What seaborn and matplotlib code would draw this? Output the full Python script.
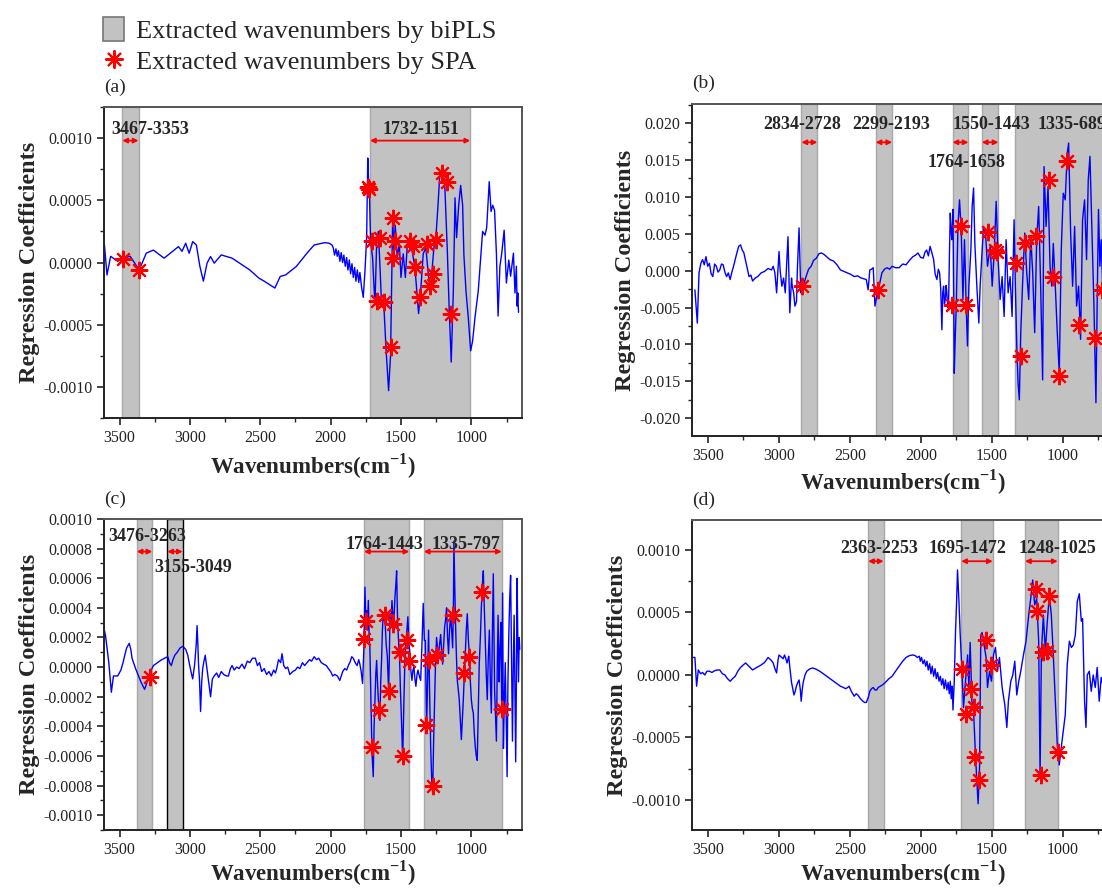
import seaborn as sns
import matplotlib
matplotlib.use("Agg")
from matplotlib import pyplot as plt
from matplotlib.patches import Patch
from matplotlib.lines import Line2D
from matplotlib.ticker import MultipleLocator, FormatStrFormatter

# ---------------- data ----------------
# panel (a)  values x1e-4
a_wn = [3607, 3589, 3563, 3513, 3475, 3424, 3360, 3310, 3259, 3183, 3081, 3056, 3030, 3005, 2980, 2954, 2929,
        2904, 2878, 2853, 2827, 2777, 2700, 2574, 2510, 2472, 2396, 2358, 2320, 2244, 2168, 2117, 2041, 2010,
        1990, 1981, 1972, 1962, 1953, 1944, 1934, 1925, 1915, 1906, 1896, 1886, 1877, 1867, 1858, 1848, 1839,
        1829, 1820, 1810, 1800, 1792, 1780, 1768, 1756, 1744, 1736, 1730, 1725, 1716, 1702, 1685, 1673, 1661,
        1650, 1638, 1621, 1607, 1588, 1574, 1559, 1550, 1541, 1526, 1512, 1500, 1484, 1469, 1455, 1436, 1422,
        1401, 1384, 1375, 1360, 1342, 1323, 1313, 1299, 1280, 1266, 1252, 1237, 1223, 1204, 1188, 1171, 1157,
        1143, 1128, 1116, 1105, 1090, 1076, 1062, 1053, 1038, 1022, 1005, 991, 974, 951, 934, 920, 903, 891,
        873, 860, 848, 835, 822, 810, 797, 784, 767, 751, 734, 721, 701, 690, 680, 675, 670, 665]
a_val = [1.4, -1.0, 0.5, 0.1, 0.35, 0.5, -0.6, 0.75, 1.0, 0.35, 1.28, 0.9, 1.55, 0.75, 1.68, 1.41, -0.3,
         -1.5, -0.05, 0.48, -0.05, 0.61, 0.35, -0.6, -1.25, -1.5, -2.05, -1.12, -1.0, -0.32, 0.75, 1.41, 1.6, 1.55,
         1.41, 1.17, 0.6, 1.1, 0.5, 0.95, 0.1, 0.8, 0.0, 0.6, -0.3, 0.4, -0.6, 0.2, -0.9, -0.1, -1.2,
         -0.4, -1.5, -0.6, -1.6, -0.8, -2.0, -2.8, -0.7, 2.0, 8.4, 6.5, 6.0, 1.7, 0.4, -3.4, 1.5, 2.5,
         -0.1, -3.4, -3.6, -6.8, -10.3, -7.4, 3.6, 1.0, 3.0, 0.4, 1.5, -1.2, 0.7, -1.2, 1.5, 1.7, 1.0,
         -0.4, -2.8, -4.1, -2.3, 0.7, 1.2, -0.1, -1.7, -0.7, 1.2, 2.0, 4.6, 7.3, 7.4, 6.0, 1.0, -3.9,
         -8.0, -2.3, 5.2, 2.0, 4.6, 6.2, 4.6, 0.6, -2.3, -4.4, -7.1, -6.3, -4.4, -2.3, 0.4, 2.5, 2.2, 2.8,
         6.5, 4.1, 4.6, 4.2, 0.75, -4.3, -0.3, 0.75, 2.6, -1.65, 0.2, -1.1, 0.75, -2.45, -0.3, -3.5, -2.45, -4.0]
a_star_wn = [3475, 3360, 1732, 1725, 1709, 1673, 1650, 1621, 1574, 1559, 1555, 1543, 1436, 1413, 1401, 1365,
             1318, 1294, 1270, 1252, 1209, 1171, 1147]
a_star_val = [0.3, -0.6, 6.1, 5.9, 1.7, -3.1, 2.0, -3.2, -6.8, 3.6, 0.4, 1.7, 1.7, 1.3, -0.4, -2.8,
              1.5, -1.9, -0.9, 1.8, 7.2, 6.5, -4.1]
a_bands = [(3480, 3365), (1720, 1008)]
a_labels = ["3467-3353", "1732-1151"]

# panel (b)  values x1e-3
b_wn = [3590, 3573, 3561, 3548, 3536, 3524, 3512, 3500, 3488, 3476, 3464, 3451, 3439, 3427, 3415, 3403, 3391,
        3379, 3367, 3355, 3342, 3330, 3318, 3300, 3282, 3269, 3257, 3245, 3227, 3209, 3196, 3184, 3166, 3148,
        3124, 3100, 3075, 3051, 3039, 3027, 3015, 2998, 2990, 2978, 2966, 2954, 2935, 2922, 2910, 2905, 2895,
        2886, 2875, 2869, 2857, 2845, 2833, 2820, 2808, 2790, 2772, 2755, 2735, 2717, 2699, 2681, 2663, 2640,
        2614, 2590, 2566, 2541, 2517, 2493, 2469, 2445, 2420, 2400, 2384, 2371, 2359, 2347, 2335, 2323, 2311,
        2299, 2287, 2274, 2256, 2238, 2220, 2202, 2178, 2153, 2128, 2104, 2080, 2056, 2038, 2020, 2002, 1983,
        1971, 1959, 1947, 1935, 1922, 1910, 1899, 1887, 1877, 1868, 1860, 1852, 1846, 1840, 1834, 1828, 1822,
        1817, 1811, 1805, 1799, 1793, 1787, 1782, 1778, 1774, 1769, 1765, 1758, 1751, 1745, 1739, 1728, 1716,
        1710, 1704, 1693, 1687, 1681, 1672, 1662, 1648, 1639, 1629, 1620, 1606, 1592, 1583, 1571, 1559, 1545,
        1531, 1512, 1498, 1484, 1470, 1456, 1442, 1428, 1414, 1400, 1386, 1372, 1358, 1344, 1335, 1325, 1316,
        1307, 1297, 1283, 1269, 1255, 1241, 1227, 1213, 1199, 1185, 1171, 1157, 1143, 1133, 1119, 1105, 1091,
        1079, 1068, 1054, 1040, 1026, 1012, 998, 984, 970, 960, 946, 932, 918, 904, 890, 876, 862, 848, 834,
        822, 810, 796, 782, 768, 759, 750, 740, 731, 720, 705, 690]
b_val = [-2.6, -7.1, -0.3, 1.0, 1.5, 0.8, 1.9, 0.6, 1.0, -0.4, -0.8, 0.9, 0.6, -0.2, 0.1, 0.9, 0.8,
         -0.2, -0.8, -0.3, -1.2, -0.2, 0.6, 2.0, 3.3, 3.5, 2.8, 2.4, 0.8, -0.8, -0.6, -1.4, -1.0, -0.8,
         -0.3, -0.1, 0.3, 0.1, 0.6, -0.3, -3.0, 2.6, 0.0, -2.1, -1.0, -3.0, 4.6, -5.7, -1.0, -2.1, -3.0,
         -4.8, -4.2, 0.1, 5.8, -3.0, -2.1, -1.6, -0.8, 0.2, 0.6, 1.4, 1.7, 2.3, 2.4, 2.2, 1.9, 1.5,
         1.3, 0.8, 0.1, -0.1, -0.3, -0.5, -0.8, -0.7, -1.0, -1.1, -1.2, -2.6, 0.1, 0.2, 0.4, -4.8, -3.5,
         -2.6, -1.5, -0.3, 0.2, 0.4, 0.2, 0.6, 0.4, 0.4, 0.9, 0.8, 1.4, 1.9, 2.1, 2.4, 1.8, 1.7,
         2.5, 2.8, 2.0, 3.3, 2.4, 1.5, -0.5, -1.2, 0.2, -0.3, -2.5, -8.0, -3.0, -2.1, -4.5, -3.9, -2.0,
         -3.0, -5.0, -4.8, 2.0, 7.8, 5.5, 4.2, 6.0, 8.3, -3.0, -13.9, -9.0, -4.8, 0.5, 6.0, 9.6, 5.6,
         1.0, -3.9, 4.2, 0.0, -4.8, -10.2, -2.1, 2.8, 8.7, 11.2, 3.7, -2.1, -7.1, -2.1, 1.9, 6.0, 5.1,
         0.6, 3.3, -2.1, 2.4, 9.4, 1.5, -3.9, -0.8, -6.2, 4.2, -3.0, -0.8, -6.2, 6.9, -2.1, -10.2, -15.2,
         -17.5, -8.4, -1.2, 5.1, -0.3, -3.9, 4.7, -0.3, -8.4, 4.2, 8.7, -2.1, -14.8, 14.1, 6.0, 11.4, 0.6,
         -2.1, 3.7, -2.1, -8.4, -13.9, 2.8, 10.5, 9.6, 15.9, 17.3, 5.1, -2.1, 6.0, -4.8, -2.1, -9.3, 6.9, 9.6, 1.5,
         12.3, 15.5, 5.1, -4.8, -17.9, -3.9, 8.3, 0.6, 4.2, -2.6, 3.0, -1.0]
b_star_wn = [2833, 2304, 1781, 1681, 1716, 1524, 1477, 1461, 1330, 1264, 1189, 1297, 1101, 1068, 1026, 974,
             885, 775, 726]
b_star_val = [-2.1, -2.6, -4.6, -4.6, 6.1, 5.3, 2.8, 2.5, 1.0, 3.8, 4.7, -11.6, 12.3, -0.8, -14.3, 14.8,
              -7.3, -9.1, -2.6]
b_bands = [(2840, 2728), (2318, 2202), (1777, 1665), (1571, 1454), (1337, 600)]
b_labels = ["2834-2728", "2299-2193", "1764-1658", "1550-1443", "1335-689"]

# panel (c)  values x1e-4
c_wn = [3614, 3599, 3576, 3558, 3543, 3513, 3490, 3475, 3460, 3449, 3431, 3420, 3411, 3386, 3365, 3348, 3322,
        3310, 3297, 3280, 3259, 3230, 3208, 3180, 3157, 3145, 3132, 3120, 3107, 3090, 3069, 3050, 3030, 3015,
        3005, 2990, 2980, 2967, 2955, 2949, 2943, 2939, 2931, 2924, 2916, 2909, 2900, 2891, 2880, 2866, 2853,
        2840, 2827, 2810, 2795, 2777, 2760, 2740, 2726, 2712, 2700, 2685, 2668, 2650, 2630, 2612, 2592, 2574,
        2555, 2535, 2520, 2505, 2490, 2472, 2455, 2438, 2421, 2405, 2392, 2383, 2370, 2355, 2345, 2333, 2320,
        2305, 2290, 2269, 2250, 2235, 2218, 2200, 2185, 2168, 2150, 2135, 2117, 2100, 2085, 2066, 2050, 2030,
        2016, 2000, 1985, 1970, 1952, 1935, 1914, 1900, 1886, 1870, 1863, 1850, 1839, 1825, 1812, 1800, 1792,
        1783, 1773, 1764, 1756, 1750, 1744, 1738, 1732, 1726, 1721, 1714, 1706, 1697, 1691, 1685, 1679, 1673,
        1667, 1661, 1655, 1650, 1644, 1638, 1632, 1626, 1619, 1612, 1605, 1597, 1588, 1583, 1578, 1571, 1564,
        1555, 1549, 1543, 1537, 1531, 1524, 1517, 1510, 1503, 1495, 1488, 1479, 1472, 1465, 1458, 1451, 1443,
        1436, 1429, 1422, 1415, 1408, 1401, 1394, 1386, 1379, 1370, 1360, 1351, 1342, 1334, 1327, 1318, 1311,
        1304, 1296, 1289, 1282, 1275, 1268, 1261, 1254, 1247, 1240, 1233, 1226, 1218, 1211, 1204, 1197, 1190,
        1183, 1176, 1169, 1162, 1155, 1147, 1140, 1133, 1128, 1124, 1119, 1114, 1107, 1100, 1093, 1086, 1079,
        1071, 1064, 1057, 1050, 1043, 1036, 1029, 1022, 1015, 1008, 1000, 993, 986, 979, 972, 965, 958, 951,
        944, 936, 929, 922, 915, 908, 901, 894, 887, 880, 872, 865, 858, 851, 844, 838, 835, 828, 822, 816,
        810, 803, 797, 790, 784, 778, 772, 765, 759, 752, 746, 740, 734, 728, 721, 715, 708, 702, 696, 690,
        685, 680, 675, 670, 665, 660, 656]
c_val = [2.8, 2.1, 0.3, -1.7, -0.6, -0.6, -0.2, 0.3, 0.9, 1.3, 1.6, 1.2, 0.6, -0.1, -0.6, -1.0, -1.5,
         -1.2, -0.7, -0.3, 0.1, 0.3, 0.45, 0.6, 0.7, 0.3, 0.1, 0.5, 0.8, 1.0, 1.3, 1.4, 1.2, 0.8,
         0.3, -0.4, -0.8, 0.1, 1.5, 2.8, 1.5, 0.3, -1.0, -3.0, -1.0, -0.1, 0.4, 0.8, 0.0, -1.0, -2.0,
         -0.8, -0.6, -0.4, -0.7, -0.3, -0.5, -0.6, -0.6, -0.1, 0.1, -0.2, 0.0, -0.1, 0.2, -0.1, 0.4, 0.3,
         0.6, 0.6, 0.1, 0.3, -0.3, -0.1, -0.5, -0.3, -0.6, -0.2, -0.4, -0.1, 0.5, 0.3, 0.9, 0.1, -0.1,
         0.0, -0.5, -0.3, -0.2, 0.0, -0.1, 0.3, 0.1, 0.3, 0.5, 0.4, 0.7, 0.5, 0.6, 0.3, 0.2, 0.1,
         -0.1, -0.3, -0.6, -0.5, -0.6, -0.9, -0.3, -0.1, -0.2, 0.2, 0.3, 0.7, 0.6, 0.3, 0.1, 0.5, 0.2,
         -0.3, -1.1, 1.2, 5.4, 3.0, 3.8, 2.5, 4.5, 2.0, 1.3, -2.0, -5.8, -7.4, -4.0, -2.2, -0.5, 0.45,
         -1.0, -2.2, -3.0, -3.6, -1.0, 0.45, 2.5, 3.6, 3.2, 2.9, 1.5, 0.7, -1.6, 0.5, 3.6, 3.0, 4.5,
         2.9, 3.5, 4.7, 5.5, 6.5, 3.0, 1.8, 0.5, -1.8, -4.0, -6.3, -2.2, 0.5, 1.8, 2.5, 3.4, 1.5,
         0.9, -0.3, -0.9, -0.2, 0.0, -0.8, -1.3, -0.5, -0.2, -0.6, -0.9, 1.5, 4.3, 1.8, 1.8, -4.0, -1.0,
         2.5, -2.0, -5.4, -7.5, -8.5, -5.0, -2.2, 0.5, 2.0, 1.2, 0.9, 1.5, 2.2, 1.0, 0.2, 1.5, 2.7,
         3.2, 4.0, 2.0, 0.9, 2.5, 3.6, 2.5, 1.3, 3.5, 8.5, 6.0, 3.6, 1.0, -0.9, -1.5, -2.2, -3.5,
         -4.9, -3.5, -2.2, -0.5, 0.9, 2.5, 3.6, 2.0, 0.9, -0.8, -2.2, -2.8, -3.1, -4.5, -5.4, -6.0, -6.3, -3.0,
         0.2, 2.0, 4.0, 5.5, 6.5, 4.0, 1.8, -0.5, -2.2, 0.5, 2.5, -1.0, -3.1, 2.0, 6.3, 1.5, -1.5, -3.5, -5.0, 0.0,
         3.5, -1.0, 1.0, 3.0, -2.8, 5.0, -5.5, -2.0, 0.3, -4.0, -7.4, -1.0, 2.1, 4.5, 6.2, 1.0, -5.0, 0.0, 3.5, -2.0,
         -6.4, -1.0, 6.0, 2.0, -1.0, 2.0, 1.2]
c_star_wn = [3284, 1763, 1749, 1709, 1654, 1614, 1588, 1555, 1507, 1484, 1460, 1441, 1323, 1299, 1275, 1242,
             1128, 1053, 1015, 927, 784]
c_star_val = [-0.7, 1.9, 3.1, -5.4, -2.9, 3.5, -1.6, 2.9, 1.0, -6.0, 1.8, 0.4, -3.9, 0.5, -8.0, 0.8,
              3.5, -0.4, 0.7, 5.1, -2.8]
c_bands = [(3378, 3267), (3160, 3051), (1763, 1441), (1338, 784)]
c_labels = ["3476-3263", "3155-3049", "1764-1443", "1335-797"]

# panel (d)  values x1e-4
d_wn = [3600, 3590, 3578, 3566, 3550, 3536, 3520, 3505, 3488, 3470, 3450, 3430, 3415, 3397, 3379, 3360, 3342,
        3325, 3306, 3288, 3269, 3250, 3233, 3210, 3184, 3155, 3124, 3100, 3075, 3055, 3039, 3027, 3015, 3005,
        2998, 2988, 2978, 2969, 2959, 2950, 2942, 2936, 2930, 2920, 2910, 2900, 2893, 2884, 2876, 2866, 2857,
        2848, 2842, 2835, 2828, 2815, 2803, 2780, 2760, 2735, 2711, 2687, 2663, 2640, 2614, 2590, 2566, 2545,
        2529, 2515, 2505, 2490, 2469, 2455, 2444, 2425, 2408, 2395, 2384, 2370, 2359, 2347, 2335, 2323, 2311,
        2300, 2286, 2270, 2250, 2225, 2202, 2178, 2153, 2128, 2104, 2080, 2056, 2040, 2025, 2010, 2004, 1995,
        1985, 1975, 1966, 1957, 1948, 1938, 1929, 1920, 1910, 1900, 1891, 1882, 1872, 1863, 1854, 1845, 1836,
        1827, 1817, 1808, 1800, 1793, 1786, 1779, 1774, 1765, 1756, 1748, 1742, 1736, 1732, 1723, 1711, 1700,
        1686, 1671, 1662, 1653, 1641, 1629, 1618, 1606, 1597, 1587, 1578, 1569, 1555, 1541, 1531, 1517, 1503,
        1489, 1475, 1461, 1447, 1428, 1409, 1395, 1384, 1367, 1353, 1339, 1325, 1311, 1297, 1278, 1260, 1241,
        1227, 1213, 1199, 1185, 1171, 1161, 1152, 1138, 1124, 1110, 1096, 1082, 1068, 1054, 1040, 1026, 1012,
        998, 984, 970, 955, 941, 927, 913, 899, 885, 871, 862, 848, 838, 829, 815, 801, 787, 773, 759, 745,
        731, 715, 700, 680]
d_val = [1.4, 1.4, -0.9, 0.4, 0.1, 0.2, 0.0, 0.3, 0.3, 0.2, 0.35, 0.4, 0.4, 0.1, 0.0, -0.3, -0.5,
         -0.3, -0.1, 0.3, 0.6, 0.8, 0.96, 0.7, 0.4, 0.6, 0.8, 1.0, 1.4, 1.2, 0.96, 0.5, 0.16, 1.2,
         1.6, 1.5, 1.4, 1.3, 1.6, 1.3, 0.96, 1.2, 1.5, 0.4, -0.6, -1.2, -1.6, -1.3, -0.9, -0.6, -0.4,
         -1.2, -2.1, -1.2, -0.6, 0.0, 0.3, 0.5, 0.56, 0.45, 0.3, 0.1, -0.1, -0.3, -0.5, -0.7, -0.9, -1.0,
         -1.1, -1.0, -0.9, -1.3, -1.7, -1.5, -1.6, -1.9, -2.1, -2.2, -2.2, -1.8, -1.3, -1.1, -1.0, -1.2, -1.2,
         -1.0, -0.9, -0.8, -0.6, -0.3, -0.1, 0.3, 0.7, 1.1, 1.4, 1.55, 1.6, 1.55, 1.4, 1.5, 1.1, 1.4,
         0.9, 1.2, 0.7, 1.1, 0.4, 0.9, 0.1, 0.7, -0.1, 0.5, -0.3, 0.2, -0.5, -0.1, -0.8, -0.3, -1.1,
         -0.4, -1.2, -0.6, -1.5, -0.5, -1.9, -0.9, -2.8, -0.5, 3.5, 6.0, 8.4, 7.0, 5.9, 3.2, 0.3, -2.6,
         -0.5, 1.6, -1.0, 2.6, -2.1, -2.9, -5.8, -8.5, -10.3, -7.4, 3.2, 3.4, 2.4, 1.4, -1.0, 0.3, -0.5,
         1.6, 2.2, 0.3, 1.4, -1.0, -2.4, -4.2, -2.1, -0.5, 0.0, 1.1, -1.6, -0.5, 0.3, 1.6, 2.7, 4.8,
         6.1, 7.6, 5.6, 6.1, 2.7, -8.0, 1.6, 4.8, 1.9, 4.3, 6.4, 4.8, 1.6, -2.1, -5.6, -7.2, -5.8,
         -4.5, -3.2, 0.8, 2.7, 2.2, 2.4, 3.2, 5.9, 6.5, 4.3, 4.5, -2.1, -4.2, 0.0, 0.3, -1.3, 0.0, -1.0, 0.6, -2.1,
         -0.2, -1.0, 0.5, -0.5]
d_star_wn = [1711, 1648, 1681, 1625, 1618, 1594, 1545, 1508, 1189, 1180, 1096, 1143, 1115, 1157, 1035]
d_star_val = [0.5, -1.1, -3.1, -2.6, -6.6, -8.4, 2.8, 0.8, 6.9, 5.1, 6.3, 1.8, 1.9, -8.0, -6.2]
d_bands = [(2371, 2262), (1716, 1494), (1267, 1037)]
d_labels = ["2363-2253", "1695-1472", "1248-1025"]

# ---------------- style ----------------
sns.set_style("ticks")
plt.rcParams["font.family"] = ["Liberation Serif", "DejaVu Serif"]
plt.rcParams["mathtext.fontset"] = "custom"
plt.rcParams["mathtext.rm"] = "Liberation Serif"
plt.rcParams["mathtext.bf"] = "Liberation Serif:bold"
plt.rcParams["axes.unicode_minus"] = False

BAND = "#c2c2c2"
STAR = (8, 2, 0)

fig = plt.figure(figsize=(11.02, 8.89), dpi=100)

# axes placed like the original, right column runs past the image edge
ax_a = fig.add_axes([0.0944, 0.5298, 0.3793, 0.3498])
ax_b = fig.add_axes([0.628, 0.5096, 0.383, 0.3735])
ax_c = fig.add_axes([0.0944, 0.0664, 0.3793, 0.3498])
ax_d = fig.add_axes([0.628, 0.0664, 0.383, 0.3487])

panels = [
    (ax_a, a_wn, a_val, a_star_wn, a_star_val, a_bands, a_labels, 1e-4, "(a)",
     (-0.00125, 0.00125), 0.0005, 0.00025, "%.4f", 0.00098,
     [(3284, 0.00107), (1355, 0.00107)], 4),
    (ax_b, b_wn, b_val, b_star_wn, b_star_val, b_bands, b_labels, 1e-3, "(b)",
     (-0.0224, 0.0226), 0.005, 0.0025, "%.3f", 0.0174,
     [(2833, 0.0198), (2206, 0.0198), (1676, 0.0147), (1502, 0.0198), (940, 0.0198)], 3),
    (ax_c, c_wn, c_val, c_star_wn, c_star_val, c_bands, c_labels, 1e-4, "(c)",
     (-0.0011, 0.0010), 0.0002, 0.0001, "%.4f", 0.00078,
     [(3305, 0.00088), (2980, 0.00067), (1614, 0.00083), (1038, 0.00083)], 0.5),
    (ax_d, d_wn, d_val, d_star_wn, d_star_val, d_bands, d_labels, 1e-4, "(d)",
     (-0.00124, 0.00124), 0.0005, 0.00025, "%.4f", 0.00091,
     [(2291, 0.00101), (1672, 0.00101), (1037, 0.00101)], 0.5),
]

for (ax, wn, val, swn, sval, bands, labels, scale, tag, ylim, major, minor, fmt, arrow_y,
     label_pos, xpad) in panels:
    for i, (hi, lo) in enumerate(bands):
        edge = "black" if (tag == "(c)" and i == 1) else "#a8a8a8"
        ax.axvspan(lo, hi, facecolor=BAND, edgecolor=edge, lw=1.0, zorder=0)
        ax.annotate("", xy=(lo, arrow_y), xytext=(hi, arrow_y),
                    arrowprops=dict(arrowstyle="<|-|>", color="red", lw=1.3,
                                    mutation_scale=7, shrinkA=0, shrinkB=0), zorder=4)
    for text, (lx, ly) in zip(labels, label_pos):
        ax.text(lx, ly, text, ha="center", va="center", fontsize=13, fontweight="bold", zorder=5)

    sns.lineplot(x=wn, y=[v * scale for v in val], ax=ax, color="#0000ff", lw=1.0,
                 sort=False, estimator=None, zorder=2)
    ax.plot(swn, [v * scale for v in sval], linestyle="none", marker=STAR,
            markersize=12.5, markeredgewidth=1.5, color="red", zorder=6)

    ax.set_xlim(3610, 640)
    ax.set_ylim(*ylim)
    ax.xaxis.set_major_locator(MultipleLocator(500))
    ax.xaxis.set_minor_locator(MultipleLocator(250))
    ax.yaxis.set_major_locator(MultipleLocator(major))
    ax.yaxis.set_minor_locator(MultipleLocator(minor))
    ax.yaxis.set_major_formatter(FormatStrFormatter(fmt))
    ax.tick_params(axis="both", which="major", direction="out", length=5, width=1.2,
                   labelsize=11.5, colors="#222222", top=False, right=False)
    ax.tick_params(axis="both", which="minor", direction="out", length=3, width=1.0,
                   top=False, right=False)
    for sp in ax.spines.values():
        sp.set_visible(True)
        sp.set_color("#555555")
        sp.set_linewidth(1.4)
    ax.spines["bottom"].set_color("#222222")
    ax.spines["left"].set_color("#222222")
    ax.set_xlabel(r"Wavenumbers(cm$^{\mathbf{-1}}$)", fontsize=16.5, fontweight="bold", labelpad=xpad)
    ax.set_ylabel("Regression Coefficients", fontsize=17.5, fontweight="bold", labelpad=2)
    ax.text(0.0, 1.035, tag, transform=ax.transAxes, fontsize=14, ha="left", va="bottom")

# legend on top left
handles = [Patch(facecolor=BAND, edgecolor="#777777", lw=1.2),
           Line2D([], [], linestyle="none", marker=STAR, markersize=13, markeredgewidth=1.5, color="red")]
fig.legend(handles, ["Extracted wavenumbers by biPLS", "Extracted wavenumbers by SPA"],
           loc="upper left", bbox_to_anchor=(0.078, 1.0), frameon=False, fontsize=19,
           handlelength=0.8, handleheight=1.0, handletextpad=0.45, labelspacing=0.2, borderaxespad=0.25)

fig.savefig("out.png", dpi=100)
